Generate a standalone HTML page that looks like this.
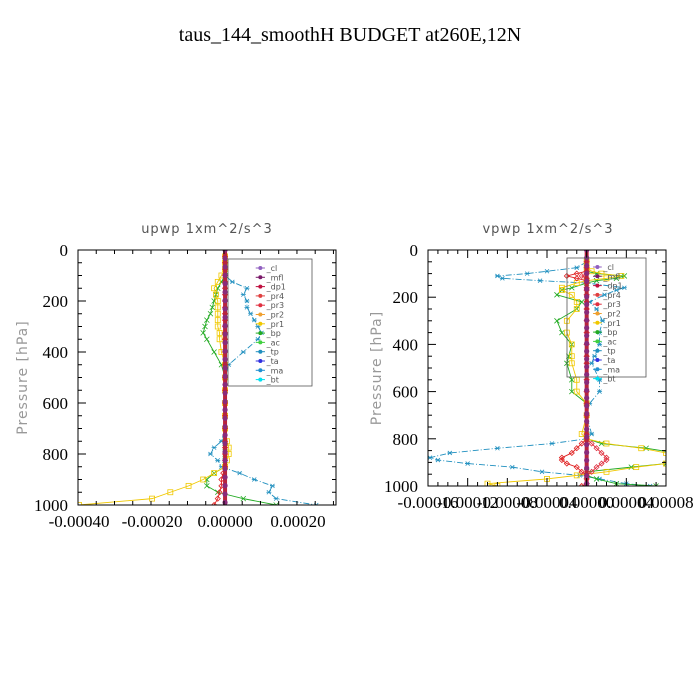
<!DOCTYPE html>
<html><head><meta charset="utf-8"><style>
html,body{margin:0;padding:0;background:#fff;}
svg{display:block;}
</style></head><body>
<svg id="chart" width="700" height="700" xmlns="http://www.w3.org/2000/svg">
<rect width="700" height="700" fill="#fff"/>
<text x="350" y="41" text-anchor="middle" font-family="Liberation Serif, serif" font-size="20" fill="#000">taus_144_smoothH  BUDGET at260E,12N</text>
</svg>
<script>
// ---- data (values in units of 1e-5 m^2/s^3) ----
const levels = [25,50,75,100,125,150,175,200,225,250,275,300,325,350,400,450,500,550,600,650,700,750,775,800,825,850,875,900,925,950,975,1000];
const seriesNames = ["_cl","_mfl","_dp1","_pr4","_pr3","_pr2","_pr1","_bp","_ac","_tp","_ta","_ma","_bt"];
// upwp
const upTp  = [0,0,0,0,2,6,5,6,6,7,8,9,10,9,5,1,0,0,0,0,0,-1,-3,-4,-2,-1,4,8,13,12,14,25];
const upBp  = [0,0,0,0,-1,-2,-2.5,-3,-3.5,-4,-5,-5.5,-6,-5,-3,-1,0,0,0,0,0,0,0,0,0,0,-3,-5,-5,-2,5,14];
const upPr1 = [0,0,0,-1,-2,-3,-2.5,-2,-2,-2,-2,-2,-1.5,-1.5,-1,0,0,0,0,0,0,0.5,1,1,0.5,0,-3,-6,-10,-15,-20,-40];
const upPr4 = [0,0,0,0,0,0,0,0,0,0,0,0,0,0,0,0,0,0,0,0,0,0,0,0,0,0,-0.5,-1,-1,-1.5,-2,-3];
// vpwp
const vLevels = [50,75,90,100,110,120,130,140,160,170,190,220,250,300,350,400,450,480,550,600,650,700,780,800,820,840,860,880,890,905,920,940,955,970,990,1000];
const vTp  = [0,-1,-4,-6,-9,-8.5,-4.7,0,3.8,3,1.8,0.3,1,1.6,1.3,1.3,0.8,0.5,1.3,1.3,0.3,0,0.5,0,-3.5,-9,-13.8,-15.8,-15,-12,-7.5,-4.5,-0.7,1.3,4,6.4];
const vPr1 = [0,0,0.5,1.5,3.5,2,0,-1,-2.5,-2.5,-1.5,-1,-1,-2,-2,-1.5,-1.5,-1.5,-1,-1,0,0,-0.5,0,2,5.5,8,9.5,9,8,5,2,-1,-4,-10,-9];
const vBp  = [0,0,0,1,3.8,3,1,0,-1.5,-2.5,-3,-0.5,-1,-3,-2.5,-1.5,-1.8,-2,-1.5,-1.5,0,0,0,0,1.5,6,9,10,9.5,8,4.5,0,0,1,3,7];
const vPr4 = [0,0,0,-1,-2,-1,0,0,0,0,0,0,0,0,0,0,0,0,0,0,0,0,0,0,-0.5,-1,-1.5,-2.5,-2.5,-2,-1,-0.5,0,0,0,-0.5];
const vPr3 = [0,0,0,0,-0.5,0,0,0,0,0,0,0,0,0,0,0,0,0,0,0,0,0,0,0,0.5,1,1.5,2,2,1.5,1,0.5,0,0,0,0];
const leftTicksX = ["-0.00040","-0.00020","0.00000","0.00020"];
const leftTickVals = [-40,-20,0,20];
const rightTicksX = ["-0.00016","-0.00012","-0.00008","-0.00004","0.00000","0.00004","0.00008"];
const rightTickVals = [-16,-12,-8,-4,0,4,8];
const yTicks = [0,200,400,600,800,1000];

const NS="http://www.w3.org/2000/svg";
const svg=document.getElementById('chart');
function el(tag,attrs,parent){const e=document.createElementNS(NS,tag);for(const k in attrs)e.setAttribute(k,attrs[k]);(parent||svg).appendChild(e);return e;}

const colors={tp:"#1f8fbf",bp:"#22aa22",pr1:"#f0c800",pr4:"#e02020",pr3:"#e03040",main:"#8a2a7a"};

function marker(g,type,x,y,c){
  let m;
  if(type==="sq"){m=el('rect',{x:x-2.5,y:y-2.5,width:5,height:5,fill:'none',stroke:c,'stroke-width':0.8},g);}
  else if(type==="x"){m=el('path',{d:`M${x-2.5} ${y-2.5}L${x+2.5} ${y+2.5}M${x-2.5} ${y+2.5}L${x+2.5} ${y-2.5}`,stroke:c,'stroke-width':0.8},g);}
  else if(type==="star"){m=el('path',{d:`M${x-2.5} ${y}L${x+2.5} ${y}M${x-2} ${y-2}L${x+2} ${y+2}M${x-2} ${y+2}L${x+2} ${y-2}`,stroke:c,'stroke-width':0.8},g);}
  else if(type==="dia"){m=el('path',{d:`M${x} ${y-2.5}L${x+2.5} ${y}L${x} ${y+2.5}L${x-2.5} ${y}Z`,fill:'none',stroke:c,'stroke-width':0.8},g);}
  else {m=el('circle',{cx:x,cy:y,r:2.6,fill:c},g);}
  
  
}

function panel(cfg){
  const g=el('g',{});
  
  
  const X=v=>cfg.x0+(v-cfg.xmin)/(cfg.xmax-cfg.xmin)*(cfg.x1-cfg.x0);
  const Y=p=>cfg.y0+p/1000*(cfg.y1-cfg.y0);
  const cid='clip'+cfg.name;
  const defs=el('defs',{},g);const cp=el('clipPath',{id:cid},defs);
  el('rect',{x:cfg.x0,y:cfg.y0,width:cfg.x1-cfg.x0,height:cfg.y1-cfg.y0},cp);
  const plot=el('g',{'clip-path':`url(#${cid})`},g);
  // series
  cfg.series.forEach(s=>{
    const pts=s.vals.map((v,i)=>[X(v),Y(s.lev[i])]);
    const p=el('polyline',{points:pts.map(q=>q.join(',')).join(' '),fill:'none',stroke:s.c,'stroke-width':0.9,'stroke-dasharray':s.dash||''},plot);
    
    
    pts.forEach(q=>marker(plot,s.m,q[0],q[1],s.c));
  });
  // central zero line
  const zl=el('line',{x1:X(0),x2:X(0),y1:cfg.y0,y2:cfg.y1,stroke:'#b8243c','stroke-width':4},plot);
  
  
  for(let p=0;p<=1000;p+=33){marker(plot,'dot',X(0),Y(p),colors.main);}
  // frame
  const fr=el('rect',{x:cfg.x0,y:cfg.y0,width:cfg.x1-cfg.x0,height:cfg.y1-cfg.y0,fill:'none',stroke:'#000','stroke-width':1},g);
  
  
  // ticks
  for(let p=0;p<=1000;p+=50){const maj=p%200===0;const L=maj?8:4;
    el('line',{x1:cfg.x0,x2:cfg.x0+L,y1:Y(p),y2:Y(p),stroke:'#000'},g);
    el('line',{x1:cfg.x1,x2:cfg.x1-L,y1:Y(p),y2:Y(p),stroke:'#000'},g);}
  for(let v=cfg.xmin;v<=cfg.xmax+1e-9;v+=cfg.minor){const maj=Math.abs(Math.round(v/cfg.major)*cfg.major-v)<1e-6;const L=maj?8:4;
    el('line',{x1:X(v),x2:X(v),y1:cfg.y1,y2:cfg.y1-L,stroke:'#000'},g);
    el('line',{x1:X(v),x2:X(v),y1:cfg.y0,y2:cfg.y0+L,stroke:'#000'},g);}
  yTicks.forEach(t=>{const tx=el('text',{x:cfg.x0-10,y:Y(t)+6,'text-anchor':'end','font-family':'Liberation Serif, serif','font-size':17},g);tx.textContent=t;
    });
  cfg.xt.forEach((t,i)=>{const tx=el('text',{x:X(cfg.xtv[i]),y:cfg.y1+22,'text-anchor':'middle','font-family':'Liberation Serif, serif','font-size':17},g);tx.textContent=t;
    });
  const ti=el('text',{x:cfg.tx,y:cfg.y0-17,'text-anchor':'middle','font-family':'DejaVu Sans, sans-serif','font-size':13,fill:'#555','letter-spacing':'1'},g);ti.textContent=cfg.title;
  
  const yl=el('text',{x:0,y:0,transform:`translate(${cfg.ylx},${(cfg.y0+cfg.y1)/2}) rotate(-90)`,'text-anchor':'middle','font-family':'DejaVu Sans, sans-serif','font-size':14,fill:'#999','letter-spacing':'1'},g);yl.textContent='Pressure [hPa]';
  
  // legend
  const lg=el('g',{},g);
  el('rect',{x:cfg.lx,y:cfg.ly,width:cfg.lw,height:cfg.lh,fill:'none',stroke:'#555','stroke-width':0.8},lg);
  const lc=["#9060c0","#7a1a6a","#c01040","#e04040","#e03040","#f0a030","#f0c800","#22aa22","#40d040","#1f8fbf","#3030e0","#2090d0","#00e0f0"];
  seriesNames.forEach((n,i)=>{const yy=cfg.ly+9+i*9.3;const e=el('g',{},lg);
    
    el('line',{x1:cfg.lx+cfg.lw*0.33,x2:cfg.lx+cfg.lw*0.44,y1:yy,y2:yy,stroke:lc[i]},e);
    el('circle',{cx:cfg.lx+cfg.lw*0.385,cy:yy,r:2,fill:lc[i]},e);
    const t=el('text',{x:cfg.lx+cfg.lw*0.46,y:yy+3,'font-family':'DejaVu Sans, sans-serif','font-size':8,fill:'#555'},e);t.textContent=n;});
}

panel({name:'upwp-panel',x0:78,x1:336,y0:250,y1:505,xmin:-40.3,xmax:30.4,minor:5,major:20,
  xt:leftTicksX,xtv:leftTickVals,title:'upwp   1xm^2/s^3',tx:207,ylx:27,lx:228,ly:259,lw:84,lh:127,
  series:[
    {n:'tp',lev:levels,vals:upTp,c:colors.tp,m:'star',dash:'6,2,1,2'},
    {n:'bp',lev:levels,vals:upBp,c:colors.bp,m:'x'},
    {n:'pr1',lev:levels,vals:upPr1,c:colors.pr1,m:'sq'},
    {n:'pr4',lev:levels,vals:upPr4,c:colors.pr4,m:'dia'}]});
panel({name:'vpwp-panel',x0:428,x1:666,y0:250,y1:486,xmin:-16,xmax:8,minor:1,major:4,
  xt:rightTicksX,xtv:rightTickVals,title:'vpwp   1xm^2/s^3',tx:548,ylx:381,lx:567,ly:258,lw:79,lh:119,
  series:[
    {n:'tp',lev:vLevels,vals:vTp,c:colors.tp,m:'star',dash:'6,2,1,2'},
    {n:'bp',lev:vLevels,vals:vBp,c:colors.bp,m:'x'},
    {n:'pr1',lev:vLevels,vals:vPr1,c:colors.pr1,m:'sq'},
    {n:'pr4',lev:vLevels,vals:vPr4,c:colors.pr4,m:'dia'},
    {n:'pr3',lev:vLevels,vals:vPr3,c:colors.pr3,m:'dia'}]});
</script>
</body></html>
